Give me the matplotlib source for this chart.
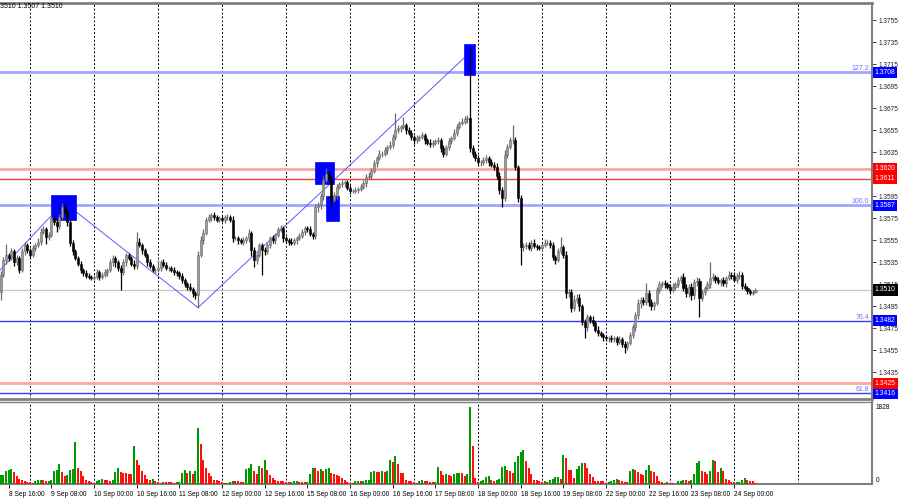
import numpy as np
import matplotlib
matplotlib.use('Agg')
import matplotlib.pyplot as plt
from matplotlib.patches import Rectangle
from matplotlib.ticker import FormatStrFormatter

plt.rcParams['font.family'] = ['Liberation Sans', 'DejaVu Sans']

# H1 closes in pips (1.3524 -> 3524), one row per trading day
close_8sep = [3524, 3537, 3542, 3539, 3545, 3535, 3539, 3528, 3545, 3551, 3546]
close_9sep = [3542, 3548, 3551, 3554, 3563, 3565, 3558, 3560, 3575, 3572, 3568, 3576,
              3585, 3581, 3572, 3553, 3545, 3539, 3534, 3528, 3525, 3523, 3522, 3521]
close_10sep = [3522, 3526, 3522, 3524, 3526, 3528, 3535, 3539, 3535, 3530, 3526, 3535,
               3542, 3539, 3534, 3532, 3554, 3551, 3546, 3542, 3535, 3532, 3528, 3528]
close_11sep = [3530, 3535, 3533, 3530, 3530, 3528, 3526, 3525, 3523, 3519, 3515, 3513,
               3511, 3507, 3505, 3542, 3555, 3562, 3574, 3576, 3578, 3576, 3574, 3575]
close_12sep = [3574, 3576, 3576, 3574, 3557, 3557, 3555, 3554, 3555, 3557, 3562, 3546,
               3537, 3542, 3551, 3546, 3545, 3551, 3557, 3555, 3560, 3565, 3566, 3557]
close_15sep = [3555, 3554, 3553, 3555, 3557, 3559, 3563, 3566, 3565, 3561, 3559, 3585,
               3587, 3595, 3610, 3615, 3612, 3592, 3596, 3604, 3606, 3607, 3608, 3603]
close_16sep = [3600, 3600, 3601, 3602, 3604, 3607, 3613, 3614, 3618, 3625, 3630, 3634,
               3634, 3637, 3640, 3642, 3649, 3655, 3657, 3658, 3660, 3655, 3653, 3649]
close_17sep = [3646, 3648, 3649, 3651, 3646, 3644, 3643, 3644, 3645, 3646, 3639, 3634,
               3640, 3645, 3648, 3653, 3658, 3662, 3663, 3665, 3666, 3639, 3634, 3630]
close_18sep = [3626, 3626, 3628, 3630, 3626, 3624, 3622, 3614, 3601, 3594, 3633, 3640,
               3646, 3646, 3622, 3594, 3549, 3550, 3551, 3548, 3553, 3550, 3549, 3548]
close_19sep = [3551, 3553, 3553, 3551, 3540, 3537, 3545, 3549, 3542, 3507, 3508, 3494,
               3501, 3503, 3495, 3481, 3476, 3485, 3483, 3480, 3474, 3471, 3469, 3467]
close_22sep = [3466, 3466, 3465, 3466, 3463, 3465, 3461, 3458, 3462, 3469, 3476, 3487,
               3498, 3501, 3499, 3507, 3499, 3495, 3498, 3510, 3515, 3516, 3515, 3513]
close_23sep = [3510, 3513, 3515, 3519, 3522, 3512, 3507, 3513, 3505, 3517, 3518, 3503,
               3508, 3512, 3515, 3521, 3522, 3519, 3517, 3519, 3516, 3521, 3524, 3523]
close_24sep = [3519, 3523, 3524, 3514, 3512, 3509, 3507, 3508, 3510]
first_open = 3508

# upper / lower shadows in pips
up_8sep = [3, 3, 10, 2, 3, 2, 3, 2, 3, 3, 2]
lo_8sep = [7, 2, 3, 3, 2, 3, 2, 3, 2, 3, 2]
up_9sep = [2, 3, 2, 3, 3, 3, 2, 3, 3, 2, 3, 3, 4, 3, 2, 2, 2, 2, 2, 2, 2, 3, 2, 2]
lo_9sep = [3, 2, 3, 2, 3, 2, 6, 3, 2, 3, 5, 3, 2, 2, 4, 3, 3, 2, 2, 3, 2, 2, 2, 2]
up_10sep = [2, 3, 2, 2, 3, 2, 3, 3, 2, 2, 3, 3, 2, 2, 2, 3, 9, 3, 2, 2, 2, 3, 2, 2]
lo_10sep = [2, 2, 3, 2, 2, 3, 2, 3, 4, 3, 16, 2, 3, 2, 2, 3, 3, 2, 3, 2, 3, 2, 2, 3]
up_11sep = [7, 2, 3, 2, 2, 2, 3, 2, 2, 2, 2, 2, 3, 2, 2, 3, 4, 3, 2, 3, 2, 3, 2, 2]
lo_11sep = [2, 3, 2, 2, 3, 2, 2, 2, 3, 3, 2, 3, 2, 3, 3, 11, 2, 3, 2, 2, 3, 2, 2, 2]
up_12sep = [2, 2, 3, 2, 3, 2, 2, 2, 3, 2, 3, 2, 3, 2, 2, 2, 3, 2, 2, 3, 2, 2, 3, 2]
lo_12sep = [2, 3, 2, 2, 3, 2, 3, 2, 3, 2, 3, 5, 6, 3, 2, 22, 3, 2, 3, 2, 3, 2, 2, 3]
up_15sep = [2, 2, 3, 2, 2, 3, 2, 2, 2, 3, 2, 3, 3, 3, 4, 6, 3, 2, 3, 2, 2, 3, 2, 2]
lo_15sep = [2, 3, 2, 2, 3, 2, 2, 3, 2, 2, 3, 3, 4, 3, 3, 2, 3, 7, 2, 3, 2, 2, 3, 2]
up_16sep = [2, 2, 3, 2, 2, 3, 2, 3, 3, 3, 2, 3, 2, 3, 2, 3, 3, 16, 3, 2, 7, 2, 3, 2]
lo_16sep = [3, 2, 2, 3, 2, 2, 3, 2, 3, 2, 3, 2, 3, 2, 3, 2, 3, 3, 2, 3, 2, 3, 2, 3]
up_17sep = [2, 3, 2, 3, 2, 2, 3, 2, 2, 3, 2, 3, 2, 3, 2, 3, 3, 2, 3, 3, 3, 65, 3, 2]
lo_17sep = [3, 2, 3, 2, 3, 2, 3, 3, 2, 2, 4, 3, 2, 3, 2, 2, 3, 2, 2, 2, 3, 4, 3, 3]
up_18sep = [3, 2, 3, 3, 2, 3, 2, 3, 3, 3, 4, 3, 3, 14, 3, 2, 2, 3, 3, 3, 2, 3, 2, 2]
lo_18sep = [3, 3, 2, 3, 3, 2, 3, 3, 4, 9, 3, 3, 2, 3, 3, 4, 16, 4, 3, 2, 3, 2, 3, 2]
up_19sep = [2, 3, 2, 2, 3, 2, 3, 9, 2, 3, 3, 3, 4, 3, 3, 2, 3, 3, 2, 3, 2, 3, 2, 2]
lo_19sep = [3, 2, 2, 3, 3, 3, 2, 2, 3, 4, 3, 4, 3, 3, 4, 3, 10, 3, 3, 3, 2, 3, 2, 3]
up_22sep = [2, 2, 3, 2, 2, 3, 2, 3, 2, 3, 3, 3, 4, 3, 3, 9, 3, 3, 2, 3, 3, 2, 3, 2]
lo_22sep = [2, 3, 2, 2, 3, 2, 3, 5, 3, 2, 3, 3, 3, 4, 3, 3, 4, 3, 3, 2, 3, 2, 3, 2]
up_23sep = [2, 3, 2, 3, 2, 3, 3, 2, 3, 3, 4, 3, 3, 2, 3, 14, 3, 2, 3, 2, 3, 2, 3, 2]
lo_23sep = [3, 2, 3, 2, 3, 3, 3, 3, 4, 3, 3, 18, 3, 3, 2, 3, 3, 3, 2, 3, 2, 3, 2, 3]
up_24sep = [3, 2, 3, 2, 2, 2, 2, 2, 2]
lo_24sep = [2, 3, 3, 3, 2, 3, 2, 2, 1]

# tick volumes
vol_8sep = [213, 221, 316, 340, 363, 284, 182, 126, 87, 79, 47]
vol_9sep = [40, 32, 63, 87, 103, 87, 71, 79, 87, 316, 324, 482, 276, 198, 221, 340,
            356, 988, 379, 300, 182, 103, 71, 47]
vol_10sep = [24, 63, 95, 119, 95, 87, 71, 87, 276, 379, 276, 269, 253, 245, 237, 909,
             577, 458, 300, 221, 126, 103, 111, 71]
vol_11sep = [40, 24, 55, 47, 40, 36, 32, 47, 55, 261, 340, 261, 316, 245, 316, 1327,
             948, 577, 379, 261, 182, 103, 87, 79]
vol_12sep = [40, 24, 32, 55, 79, 71, 63, 55, 51, 356, 379, 474, 316, 245, 419, 379,
             577, 340, 221, 142, 87, 79, 71, 63]
vol_15sep = [55, 40, 47, 63, 79, 55, 47, 40, 55, 245, 379, 371, 316, 363, 316, 363,
             379, 261, 229, 213, 182, 134, 103, 55]
vol_16sep = [32, 24, 79, 83, 79, 83, 87, 103, 276, 316, 284, 276, 300, 276, 300, 577,
             529, 656, 482, 261, 253, 103, 79, 63]
vol_17sep = [40, 24, 63, 95, 79, 63, 47, 40, 47, 403, 316, 221, 237, 221, 182, 245,
             261, 269, 253, 182, 245, 1828, 893, 142]
vol_18sep = [47, 63, 103, 166, 198, 103, 79, 103, 119, 403, 435, 340, 300, 261, 514,
             672, 751, 798, 537, 379, 245, 103, 95, 63]
vol_19sep = [47, 63, 47, 103, 111, 166, 174, 119, 695, 616, 340, 332, 142, 356, 419,
             498, 490, 379, 245, 166, 79, 75, 71, 67]
vol_22sep = [24, 40, 63, 103, 126, 103, 63, 59, 55, 300, 356, 340, 284, 245, 221, 340,
             458, 300, 284, 182, 63, 47, 32, 40]
vol_23sep = [16, 12, 8, 63, 79, 103, 87, 83, 103, 245, 498, 553, 316, 276, 237, 316,
             577, 537, 276, 379, 300, 119, 103, 55]
vol_24sep = [40, 47, 55, 87, 142, 103, 79, 63, 24]

time_labels = ['8 Sep 16:00', '9 Sep 08:00', '10 Sep 00:00', '10 Sep 16:00', '11 Sep 08:00',
               '12 Sep 00:00', '12 Sep 16:00', '15 Sep 08:00', '16 Sep 00:00', '16 Sep 16:00',
               '17 Sep 08:00', '18 Sep 00:00', '18 Sep 16:00', '19 Sep 08:00', '22 Sep 00:00',
               '22 Sep 16:00', '23 Sep 08:00', '24 Sep 00:00']
price_ticks = [1.3435, 1.3455, 1.3475, 1.3495, 1.3515, 1.3535, 1.3555, 1.3575, 1.3595,
               1.3635, 1.3655, 1.3675, 1.3695, 1.3715, 1.3735, 1.3755]

# drawn objects: fibo levels, s/r lines, zigzag and boxes (bar index, price)
fib_levels = [1.3708, 1.3587, 1.3482, 1.3416]
fib_names = ['127.2', '100.0', '76.4', '61.8']
red_levels = [1.3620, 1.3611, 1.3425]
last_price = 1.3510
zigzag_a = [(-0.25, 1.3528), (23.4, 1.3589)]
zigzag_b = [(28.3, 1.3581), (74, 1.3494), (176, 1.3726)]
boxes = [(18.9, 28.3, 1.3574, 1.3596), (117.9, 125.0, 1.3606, 1.3626),
         (122.0, 126.9, 1.3573, 1.3595), (173.7, 177.9, 1.3705, 1.3734)]

closes = np.array(close_8sep + close_9sep + close_10sep + close_11sep + close_12sep
                  + close_15sep + close_16sep + close_17sep + close_18sep + close_19sep
                  + close_22sep + close_23sep + close_24sep) / 1e4 + 1
up = np.array(up_8sep + up_9sep + up_10sep + up_11sep + up_12sep + up_15sep + up_16sep
              + up_17sep + up_18sep + up_19sep + up_22sep + up_23sep + up_24sep) / 1e4
lo = np.array(lo_8sep + lo_9sep + lo_10sep + lo_11sep + lo_12sep + lo_15sep + lo_16sep
              + lo_17sep + lo_18sep + lo_19sep + lo_22sep + lo_23sep + lo_24sep) / 1e4
vols = np.array(vol_8sep + vol_9sep + vol_10sep + vol_11sep + vol_12sep + vol_15sep
                + vol_16sep + vol_17sep + vol_18sep + vol_19sep + vol_22sep + vol_23sep
                + vol_24sep)

opens = np.r_[first_open / 1e4 + 1, closes[:-1]]
highs = np.maximum(opens, closes) + up
lows = np.minimum(opens, closes) - lo
idx = np.arange(len(closes))
bull = closes >= opens

W, H = 900, 500
FS = 4.7  # small terminal font
fig = plt.figure(figsize=(9, 5), dpi=100)


def px_axes(x0, y0, x1, y1):
    return fig.add_axes([x0 / W, 1 - y1 / H, (x1 - x0) / W, (y1 - y0) / H])


ax = px_axes(0, 3, 872, 399)
axv = px_axes(0, 402, 872, 484)
xlim = (-0.25, 326.7)
ax.set_xlim(*xlim)
axv.set_xlim(*xlim)
ax.set_ylim(1.34109, 1.37709)
axv.set_ylim(0, 1950)

# day separators
for a in (ax, axv):
    for k in range(13):
        a.axvline(11 + 24 * k, color='black', lw=0.7, ls=(0, (2, 2)), zorder=1)

# horizontal levels
fib_style = {'127.2': ('#a4a4ff', 2.0), '100.0': ('#a4a4ff', 2.0),
             '76.4': ('#3a3aff', 1.0), '61.8': ('#3a3aff', 1.0)}
for lev, name in zip(fib_levels, fib_names):
    col, lw = fib_style[name]
    ax.axhline(lev, color=col, lw=lw, zorder=2)
    ax.text(0.997, lev, name, transform=ax.get_yaxis_transform(), ha='right', va='bottom',
            fontsize=FS + 0.3, color='#7070ff')
for lev in red_levels:
    thin = lev == 1.3611
    ax.axhline(lev, color='#ff3a3a' if thin else '#ffa4a4', lw=1.0 if thin else 2.0, zorder=2)
ax.axhline(last_price, color='#c8c8c8', lw=0.9, zorder=2)

# zigzag and rectangles
for seg in (zigzag_a, zigzag_b):
    xs, ys = zip(*seg)
    ax.plot(xs, ys, color='#5a5aff', lw=0.7, zorder=2)
for x0, x1, y0, y1 in boxes:
    ax.add_patch(Rectangle((x0, y0), x1 - x0, y1 - y0, fc='#0000ff', ec='#0000ff', lw=0.5, zorder=2))

# candles
ax.vlines(idx[bull], lows[bull], highs[bull], color='#6a6a6a', lw=0.9, zorder=3)
ax.vlines(idx[~bull], lows[~bull], highs[~bull], color='black', lw=0.9, zorder=3)
ax.bar(idx[bull], (closes - opens)[bull], bottom=opens[bull], width=0.8,
       color='#9a9a9a', ec='#6a6a6a', lw=0.4, zorder=4)
ax.bar(idx[~bull], (closes - opens)[~bull], bottom=opens[~bull], width=0.8,
       color='black', ec='black', lw=0.4, zorder=4)

# volumes, green when rising vs previous bar
rising = np.r_[True, vols[1:] > vols[:-1]]
vcol = np.where(rising, '#009a00', '#ff1010')
axv.bar(idx, vols, width=0.75, color=vcol, zorder=3)

# frames
for a in (ax, axv):
    a.spines['left'].set_visible(False)
    for s in ('top', 'right', 'bottom'):
        a.spines[s].set_color('#808080')
ax.spines['top'].set_linewidth(2)
ax.spines['bottom'].set_linewidth(2)
ax.spines['right'].set_linewidth(1.5)
axv.spines['top'].set_linewidth(1)
axv.spines['right'].set_linewidth(1.5)
axv.spines['bottom'].set_linewidth(1.5)

# price scale
ax.yaxis.tick_right()
ax.set_yticks(price_ticks)
ax.yaxis.set_major_formatter(FormatStrFormatter('%.4f'))
ax.tick_params(axis='y', length=3, width=0.6, labelsize=FS, pad=2, colors='#202020')
ax.set_xticks([])

tags = [(l, '#0000ff') for l in fib_levels] + [(l, '#ff0000') for l in red_levels] + [(last_price, 'black')]
for lev, col in tags:
    ax.text(1.003, lev, f'{lev:.4f}', transform=ax.get_yaxis_transform(), ha='left', va='center',
            fontsize=FS + 0.2, color='white', zorder=10, clip_on=False,
            bbox=dict(boxstyle='square,pad=0.3', fc=col, ec='none'))

# volume scale
axv.set_yticks([])
axv.text(1.004, 1828, '1828', transform=axv.get_yaxis_transform(), ha='left', va='center', fontsize=FS)
axv.text(1.004, 0, '0', transform=axv.get_yaxis_transform(), ha='left', va='bottom', fontsize=FS)

# time scale
axv.set_xticks([3 + 16 * k for k in range(len(time_labels))])
axv.set_xticklabels(time_labels)
axv.tick_params(axis='x', length=3, width=0.6, labelsize=FS + 0.1, pad=2)
for t in axv.get_xticklabels():
    t.set_ha('left')

fig.text(0.0, 1 - 7 / H, '3510 1.3507 1.3510', fontsize=FS + 0.3, va='center', ha='left')

fig.savefig('out.png', dpi=100)
